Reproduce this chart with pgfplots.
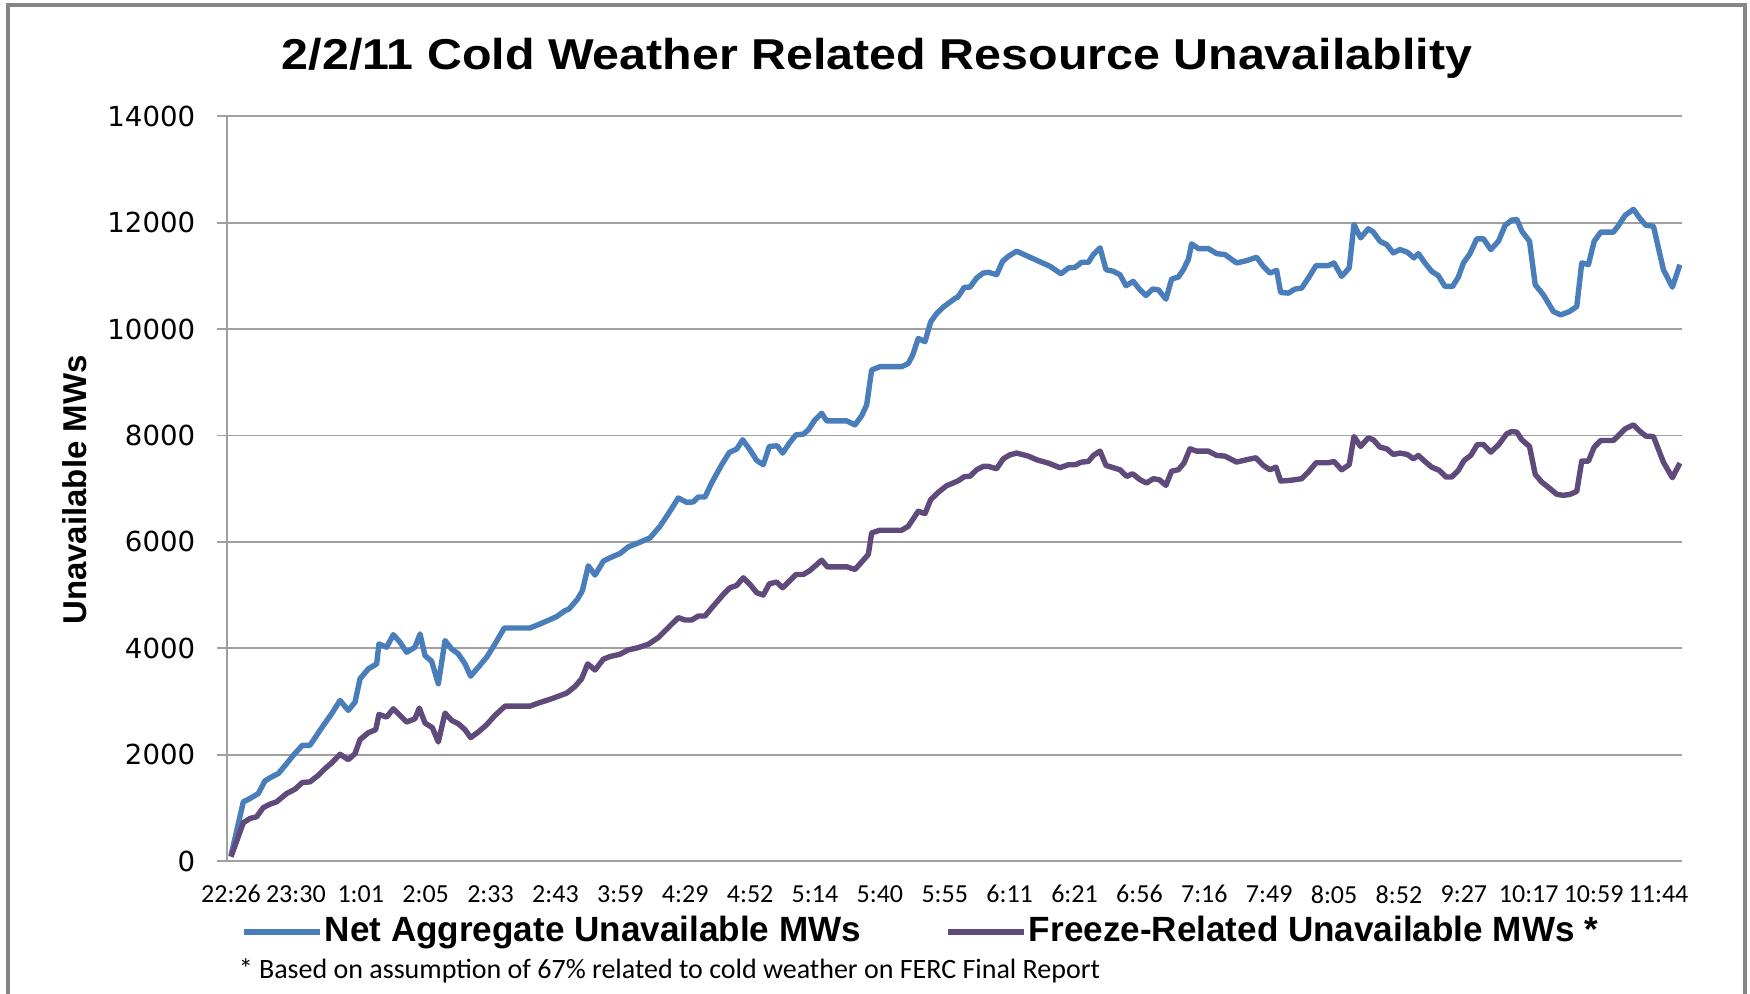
\documentclass[border=0pt]{standalone}
\usepackage{fontspec}
\setmainfont{Liberation Sans}
\newfontfamily\carlito{Carlito}
\newfontfamily\dejavu{DejaVu Sans}
\usepackage{pgfplots}
\pgfplotsset{compat=1.18}
\definecolor{netblue}{RGB}{74,126,187}
\definecolor{frzpurple}{RGB}{96,74,123}
\definecolor{gridgray}{RGB}{160,160,160}
\definecolor{framegray}{RGB}{134,134,134}

\begin{document}
\begin{tikzpicture}
\path[use as bounding box] (0,0) rectangle (437.5pt,248.5pt);
\draw[framegray, line width=0.8pt] (2pt,0) -- (2pt,247.25pt) -- (436.25pt,247.25pt) -- (436.25pt,0);
\node[anchor=base, xscale=1.12, font=\bfseries\fontsize{10.8}{12}\selectfont] at (219.25pt,231pt) {2/2/11 Cold Weather Related Resource Unavailablity};
\node[rotate=90, font=\bfseries\fontsize{8.25}{10}\selectfont] at (18.75pt,126pt) {Unavailable MWs};
\node[anchor=west, inner sep=0pt, font=\carlito\fontsize{7}{8}\selectfont] at (59.5pt,5.75pt) {* Based on assumption of 67\% related to cold weather on FERC Final Report};
\begin{axis}[
  at={(56.75pt,33.25pt)}, anchor=south west,
  scale only axis, width=363.75pt, height=186.15pt,
  xmin=-0.37, xmax=134.17, ymin=0, ymax=14000,
  axis lines*=left,
  axis line style={-, draw=gridgray, line width=0.45pt},
  ymajorgrids, major grid style={draw=gridgray, line width=0.45pt},
  xtick={0,6,...,132},
  xticklabels={22:26,23:30,1:01,2:05,2:33,2:43,3:59,4:29,4:52,5:14,5:40,5:55,6:11,6:21,6:56,7:16,7:49,8:05,8:52,9:27,10:17,10:59,11:44},
  ytick={0,2000,...,14000},
  scaled y ticks=false,
  tick align=outside, major tick length=2.5pt,
  ytick style={draw=gridgray, line width=0.45pt},
  xtick style={draw=none},
  /pgf/number format/1000 sep={},
  /pgf/number format/assume math mode=true,
  yticklabel style={font=\dejavu\fontsize{6.9}{8}\selectfont, anchor=east, inner sep=0pt, xshift=-5.25pt},
  xticklabel style={font=\carlito\fontsize{6.5}{7.5}\selectfont, anchor=north, inner sep=0pt, yshift=-3.4pt},
  legend columns=2,
  legend cell align=left,
  legend image code/.code={\draw[#1, line width=1.5pt] (0pt,0pt) -- (19pt,0pt);},
  legend style={at={(0.009,-0.0954)}, anchor=west, draw=none, fill=none, inner sep=0pt,
    font=\bfseries\fontsize{8.77}{10}\selectfont,
    nodes={inner sep=0.5pt},
    /tikz/every even column/.append style={column sep=20.5pt}},
]
\addplot[netblue, line width=1.35pt, line join=round] coordinates {
(0,100) (1.14,1112) (1.76,1175) (2.53,1269) (3.14,1506) (3.76,1581) (4.38,1644) (5.15,1831) (5.76,1987) (6.60,2175)
(7.30,2175) (7.92,2362) (8.54,2550) (9.31,2769) (10.08,3019) (10.85,2831) (11.47,2987) (11.93,3425) (12.70,3612) (13.47,3706)
(13.68,4081) (14.39,4019) (15.01,4256) (15.63,4112) (16.24,3925) (17.01,4019) (17.48,4269) (17.94,3862) (18.55,3756) (19.17,3331)
(19.79,4144) (20.40,3987) (21.02,3894) (21.64,3706) (22.16,3475) (22.87,3644) (23.64,3831) (24.41,4081) (25.27,4381) (27.65,4381)
(28.57,4456) (30.11,4594) (30.88,4706) (31.25,4737) (32.05,4925) (32.49,5081) (33.04,5550) (33.66,5375) (34.43,5637) (35.04,5700)
(35.97,5781) (36.74,5906) (37.67,5981) (38.74,6075) (39.67,6294) (40.59,6575) (41.36,6825) (42.13,6744) (42.75,6750) (43.21,6844)
(43.83,6844) (44.44,7106) (45.37,7450) (46.08,7681) (46.76,7744) (47.31,7919) (47.99,7731) (48.61,7531) (49.22,7450) (49.78,7794)
(50.51,7806) (51.01,7669) (51.63,7856) (52.24,8012) (52.92,8025) (53.38,8106) (54.00,8294) (54.62,8419) (55.08,8275) (56.93,8275)
(57.70,8200) (58.31,8369) (58.78,8575) (59.24,9231) (60.01,9294) (62.02,9294) (62.63,9356) (63.03,9512) (63.55,9825) (64.17,9762)
(64.70,10137) (65.25,10294) (65.90,10420) (67.00,10585) (67.20,10600) (67.80,10785) (68.33,10790) (68.95,10961) (69.56,11055) (70.03,11068)
(70.80,11024) (71.35,11275) (71.88,11370) (72.65,11465) (75.73,11181) (76.75,11042) (77.43,11150) (78.05,11162) (78.66,11257) (79.28,11257)
(79.74,11402) (80.36,11528) (80.91,11118) (81.59,11087) (82.20,11024) (82.76,10816) (83.43,10898) (84.05,10740) (84.61,10633) (85.22,10753)
(85.75,10740) (86.45,10564) (86.98,10942) (87.60,10979) (88.06,11118) (88.52,11307) (88.83,11603) (89.45,11515) (90.37,11515) (91.14,11420)
(91.91,11402) (92.99,11244) (93.91,11288) (94.84,11351) (95.45,11181) (96.07,11055) (96.69,11105) (97.06,10690) (97.77,10677) (98.38,10753)
(99.00,10772) (99.62,10961) (100.33,11194) (101.46,11194) (101.99,11244) (102.70,10992) (103.40,11150) (103.84,11968) (104.45,11716) (105.16,11887)
(105.63,11824) (106.24,11653) (106.86,11590) (107.48,11433) (108.09,11496) (108.77,11446) (109.39,11339) (109.79,11420) (110.40,11244) (111.02,11087)
(111.64,11005) (112.25,10803) (112.96,10803) (113.49,10979) (113.96,11244) (114.57,11420) (115.19,11698) (115.81,11698) (116.49,11496) (117.20,11653)
(117.81,11950) (118.43,12050) (118.90,12063) (119.36,11842) (120.07,11653) (120.60,10834) (121.35,10645) (122.28,10330) (122.96,10268) (123.76,10330)
(124.44,10425) (124.90,11244) (125.52,11213) (126.05,11653) (126.66,11824) (127.83,11824) (128.30,11950) (128.91,12139) (129.68,12252) (130.30,12076)
(130.85,11950) (131.53,11937) (132.45,11118) (133.28,10790) (133.98,11212)
};
\addlegendentry{Net Aggregate Unavailable MWs}
\addplot[frzpurple, line width=1.35pt, line join=round] coordinates {
(0,80) (1.14,719) (1.76,800) (2.37,831) (2.99,1006) (3.61,1069) (4.22,1112) (5.15,1269) (5.92,1350) (6.60,1475)
(7.30,1487) (8.08,1612) (8.69,1737) (9.31,1844) (10.08,2006) (10.85,1906) (11.47,2019) (11.93,2281) (12.70,2412) (13.38,2469)
(13.68,2756) (14.39,2706) (15.01,2862) (15.63,2737) (16.24,2612) (17.01,2675) (17.41,2875) (17.94,2594) (18.62,2506) (19.17,2237)
(19.79,2781) (20.40,2644) (21.02,2581) (21.64,2469) (22.16,2319) (22.87,2425) (23.64,2562) (24.41,2737) (25.34,2912) (27.65,2912)
(28.42,2969) (29.65,3050) (31.04,3156) (31.81,3281) (32.42,3425) (32.98,3706) (33.66,3590) (34.43,3794) (35.04,3844) (35.97,3887)
(36.74,3969) (37.67,4012) (38.59,4075) (39.51,4200) (40.59,4419) (41.36,4575) (41.98,4531) (42.60,4531) (43.21,4606) (43.83,4606)
(44.60,4794) (45.53,5012) (46.14,5137) (46.76,5181) (47.37,5325) (47.99,5200) (48.61,5044) (49.22,5000) (49.78,5212) (50.45,5244)
(51.01,5137) (51.63,5262) (52.24,5387) (52.92,5387) (53.54,5462) (54.62,5656) (55.14,5531) (56.93,5531) (57.70,5481) (58.93,5762)
(59.24,6169) (60.01,6219) (62.02,6219) (62.63,6294) (63.55,6575) (64.17,6531) (64.70,6794) (65.40,6931) (66.17,7056) (66.63,7094)
(67.25,7150) (67.80,7225) (68.33,7235) (68.95,7356) (69.56,7419) (70.03,7419) (70.80,7375) (71.41,7562) (72.03,7637) (72.65,7669)
(73.73,7612) (74.50,7544) (75.58,7481) (76.65,7394) (77.43,7450) (78.05,7450) (78.66,7500) (79.28,7512) (79.74,7625) (80.36,7706)
(80.91,7437) (81.59,7394) (82.20,7356) (82.82,7231) (83.37,7281) (84.05,7169) (84.66,7106) (85.28,7187) (85.84,7169) (86.45,7062)
(86.98,7331) (87.60,7356) (88.12,7481) (88.67,7750) (89.29,7706) (90.37,7706) (91.14,7625) (91.91,7612) (92.99,7500) (93.91,7544)
(94.77,7581) (95.45,7437) (96.07,7356) (96.63,7406) (97.06,7144) (97.92,7156) (99.00,7187) (99.62,7312) (100.33,7487) (101.46,7487)
(101.99,7512) (102.70,7356) (103.40,7450) (103.84,7981) (104.45,7794) (105.16,7956) (105.63,7919) (106.24,7781) (106.86,7750) (107.48,7644)
(108.09,7669) (108.77,7644) (109.33,7562) (109.79,7625) (110.40,7512) (111.02,7406) (111.73,7344) (112.35,7219) (112.87,7219) (113.49,7344)
(114.02,7531) (114.64,7625) (115.25,7831) (115.81,7831) (116.49,7687) (117.20,7825) (117.96,8031) (118.43,8075) (118.90,8062) (119.36,7919)
(120.07,7794) (120.60,7269) (121.20,7125) (121.97,7000) (122.59,6894) (123.20,6875) (123.82,6894) (124.44,6950) (124.90,7519) (125.52,7519)
(126.05,7781) (126.66,7906) (127.83,7906) (128.30,8000) (128.91,8125) (129.68,8200) (130.30,8075) (130.85,7987) (131.53,7981) (132.45,7500)
(133.28,7206) (133.98,7481)
};
\addlegendentry{Freeze-Related Unavailable MWs *}
\end{axis}
\end{tikzpicture}
\end{document}
